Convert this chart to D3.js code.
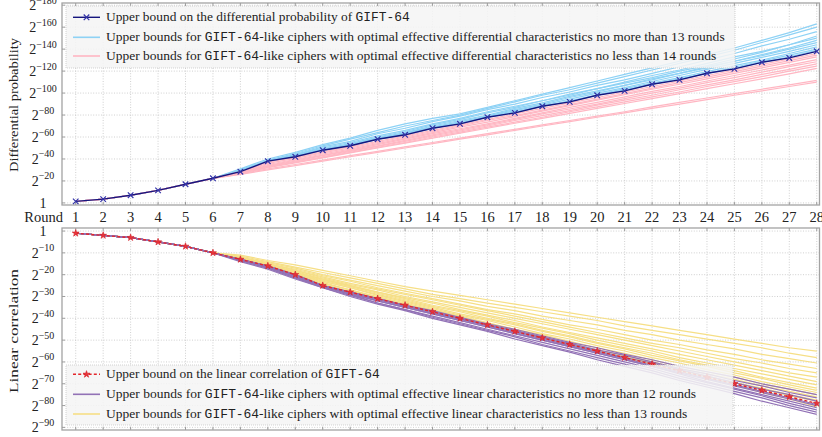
<!DOCTYPE html>
<html>
<head>
<meta charset="utf-8">
<script src="https://cdn.jsdelivr.net/npm/d3@7"></script>
<style>
  body { margin: 0; background: #fff; }
  svg { display: block; }
</style>
</head>
<body>
<script>
// ---- data ----
var rounds = [1, 2, 3, 4, 5, 6, 7, 8, 9, 10, 11, 12, 13, 14, 15, 16, 17, 18, 19, 20, 21, 22, 23, 24, 25, 26, 27, 28];
var diffTicks = [0, 20, 40, 60, 80, 100, 120, 140, 160, 180];
var linTicks = [0, 10, 20, 30, 40, 50, 60, 70, 80, 90];

// -log2 of the bounds
var diffGift = [1.415, 3.415, 7, 11.415, 17, 22.415, 28.415, 38, 42, 48, 52, 58, 62, 68, 72, 78, 82, 88, 92, 98, 102, 108, 112, 118, 122, 128, 132, 138];
var linGift = [1, 2, 3, 5, 7, 10, 13, 16, 20, 25, 28, 31, 34, 37, 40, 43, 46, 49, 52, 55, 58, 61, 64, 67, 70, 73, 76, 79];

// rounds 1-6 are shared by all the "-like" ciphers, rows below hold rounds 7..28
var diffHead = [1.415, 3.415, 7, 11.415, 17, 22.415];
var linHead = [1, 2, 3, 5, 7, 10];

var diffBlue = [
  [31, 40, 46, 53, 59, 66, 72, 77, 81, 87, 93, 99, 105, 111, 117, 123, 129, 135, 141, 148, 155, 163],
  [30, 39, 45, 52, 58, 64, 70, 75, 80, 86, 92, 98, 103, 109, 115, 121, 127, 133, 139, 146, 153, 160],
  [30, 38, 44, 51, 56, 63, 68, 74, 79, 85, 90, 96, 101, 107, 112, 118, 124, 130, 136, 143, 149, 156],
  [29.5, 38, 44, 50, 55, 61, 66, 72, 77, 83, 88, 93, 98, 104, 109, 114, 120, 125, 131, 137, 144, 152],
  [29, 38, 43, 49, 54, 60, 65, 71, 76, 82, 87, 93, 99, 104, 110, 116, 121, 127, 133, 138, 144, 150],
  [29, 38, 43, 49, 53, 59, 64, 70, 75, 80, 86, 91, 97, 102, 107, 113, 118, 124, 129, 135, 141, 148],
  [28.4, 38, 43, 48.5, 53, 59, 63.5, 69, 74, 79, 85, 90, 96, 101, 107, 112, 118, 123, 129, 134, 140, 146],
  [28.4, 38, 42.5, 48.5, 53, 58.5, 63, 68.5, 73, 78.5, 84, 89, 94.5, 100, 105, 110.5, 116, 121.5, 127, 132.5, 138, 144],
  [28.4, 38, 42.5, 48.5, 52.5, 58.5, 62.5, 68.5, 72.5, 78, 83, 88, 93, 98.5, 104, 109, 114, 119.5, 125, 130, 136, 142],
  [28.4, 38, 42, 48, 52, 58, 62, 68, 72.5, 78, 82.5, 88, 92.5, 98, 103, 108, 113, 118, 123.5, 129, 134.5, 140],
  [28.4, 38, 42, 48, 52, 58, 62, 68, 72, 78, 82, 88, 92.5, 98, 102.5, 108, 112.5, 118, 122.5, 128, 133, 139]
];

var diffPink = [
  [26, 30, 34, 38, 42, 46, 50, 54, 58, 62, 66, 70, 74, 78, 82, 86, 90, 94, 98, 102, 106, 110],
  [26.5, 31, 35, 39, 43, 47, 51, 55, 59, 63, 67, 71, 75, 79, 83, 87.5, 91.5, 95.5, 99.5, 103.5, 107.5, 111.5],
  [27, 32, 36.5, 41, 45.5, 50, 54.5, 59, 63.5, 68, 72.5, 77, 81.5, 86, 90.5, 95, 99.5, 104, 108.5, 113, 117.5, 122.5],
  [27, 32.5, 37, 41.5, 46, 50.5, 55, 60, 64.5, 69, 73.5, 78, 83, 87.5, 92, 96.5, 101, 106, 110.5, 115, 120, 124.6],
  [27.5, 33, 37.5, 42, 47, 51.5, 56, 61, 65.5, 70, 75, 79.5, 84, 89, 93.5, 98, 103, 107.5, 112, 117, 121.5, 126.5],
  [27.5, 33.5, 38, 43, 47.5, 52, 57, 62, 66.5, 71, 76, 81, 85.5, 90, 95, 100, 104.5, 109.5, 114, 119, 124, 128.5],
  [28, 34, 39, 43.5, 48, 53, 58, 63, 67.5, 72, 77, 82, 87, 91.5, 96.5, 101.5, 106, 111, 116, 121, 125.5, 130.5],
  [28, 35, 39.5, 44.5, 49, 54, 59, 64, 69, 73.5, 78.5, 83.5, 88.5, 93.5, 98.5, 103.5, 108, 113, 118, 123, 128, 133],
  [28.4, 36, 40.5, 45.5, 50, 55, 60, 65, 70, 75, 79.5, 84.5, 89.5, 94.5, 99.5, 104.5, 109.5, 114.5, 119.5, 124.5, 129.5, 134.6],
  [28.4, 37, 41.5, 46.5, 51, 56, 61, 66, 71, 76, 81, 86, 91, 96, 101, 106, 111, 116, 121, 126, 131, 136]
];

var linPurple = [
  [14, 17.5, 22, 26, 30, 33.5, 36.5, 40, 43, 46, 49.5, 52.5, 55.5, 59, 62, 65, 68.5, 71.5, 74.5, 78, 81, 84],
  [13.5, 17, 21.5, 26, 29.5, 33, 36, 39.5, 42.5, 45.5, 48.5, 52, 55, 58, 61, 64, 67.5, 70.5, 73.5, 76.5, 80, 83],
  [13.5, 17, 21.5, 25.5, 29, 33, 36, 39, 42, 45, 48, 51, 54, 57, 60, 63, 66.5, 69.5, 72.5, 75.5, 79, 82],
  [13.5, 16.5, 21, 25.5, 29, 32, 35, 38, 41, 44, 47, 50, 53, 56, 59, 62, 65.5, 69, 72, 75, 78, 81],
  [13, 16.5, 21, 25.5, 28.5, 32, 35, 38, 41, 44, 47, 50, 53, 56, 59, 62, 65, 68, 71, 74, 77, 80],
  [13, 16, 20.5, 25, 28.5, 31.5, 34.5, 37.5, 40.5, 43.5, 46.5, 49.5, 52.5, 55.5, 58.5, 61.5, 64.5, 67.5, 70.5, 73.5, 76.5, 79.5],
  [13, 16, 20.5, 25, 28, 31, 34, 37, 40, 43, 46, 49, 52, 55, 58, 60.5, 63.5, 66.5, 69.5, 72.5, 75, 78],
  [13, 16, 20, 25, 28, 31, 34, 37, 40, 43, 45.5, 48.5, 51.5, 54.5, 57, 60, 63, 65.5, 68.5, 71, 74, 76.5],
  [13, 16, 20, 25, 28, 31, 34, 36.5, 39.5, 42.5, 45, 48, 51, 53.5, 56.5, 59, 62, 64.5, 67, 70, 72.5, 75]
];

var linYellow = [
  [11, 13.5, 15.5, 18, 20.5, 23, 25.5, 27.5, 29.5, 31.5, 33.5, 35.5, 37.5, 39.5, 41.5, 43.5, 45.5, 47.5, 49.5, 51.5, 53.5, 55],
  [11.5, 14, 16.5, 19, 21.5, 24, 26.5, 29, 31, 33, 35, 37, 39, 41, 43.5, 45.5, 47.5, 49.5, 51.5, 53.5, 56, 58],
  [12, 14.5, 17, 20, 22.5, 25, 27.5, 30, 32, 34.5, 36.5, 39, 41, 43, 45.5, 47.5, 50, 52, 54, 56.5, 58.5, 60.5],
  [12, 15, 17.5, 20.5, 23, 26, 28.5, 31, 33.5, 36, 38, 40.5, 43, 45, 47.5, 50, 52, 54.5, 56.5, 59, 61, 63],
  [12, 15, 18, 21, 24, 26.5, 29, 31.5, 34, 36.5, 39, 41.5, 44, 46.5, 49, 51.5, 53.5, 56, 58.5, 60.5, 63, 65],
  [12.5, 15, 18, 21.5, 24.5, 27, 30, 32.5, 35, 37.5, 40, 42.5, 45, 47.5, 50, 52.5, 55, 57.5, 60, 62.5, 65, 67],
  [12.5, 15.5, 18.5, 22, 25, 28, 30.5, 33, 36, 38.5, 41, 44, 46.5, 49, 51.5, 54, 56.5, 59, 61.5, 64, 66.5, 69],
  [12.5, 15.5, 19, 22, 25, 28, 31, 34, 36.5, 39, 42, 44.5, 47, 50, 52.5, 55, 58, 60.5, 63, 65.5, 68, 70.5],
  [12.5, 15.5, 19, 22.5, 25.5, 28.5, 31.5, 34.5, 37, 40, 42.5, 45.5, 48, 51, 53.5, 56, 59, 61.5, 64, 67, 69.5, 72],
  [13, 16, 19, 23, 26, 29, 32, 35, 38, 40.5, 43, 46, 48.5, 51.5, 54, 57, 59.5, 62, 65, 67.5, 70.5, 73],
  [13, 16, 19.5, 23, 26, 29.5, 32.5, 35.5, 38.5, 41, 44, 47, 49.5, 52.5, 55, 58, 60.5, 63.5, 66, 69, 71.5, 74],
  [13, 16, 19.5, 23.5, 27, 30, 33, 36, 39, 42, 45, 47.5, 50.5, 53.5, 56, 59, 62, 64.5, 67, 70, 72.5, 75],
  [13, 16, 20, 24, 27, 30.5, 33.5, 36.5, 39.5, 42.5, 45.5, 48.5, 51.5, 54.5, 57, 60, 63, 65.5, 68, 71, 73.5, 76],
  [13, 16, 20, 24.5, 27.5, 30.5, 33.5, 37, 40, 43, 46, 49, 52, 55, 58, 61, 64, 66.5, 69.5, 72, 75, 77.5],
  [13, 16, 20, 24.5, 28, 31, 34, 37, 40, 43, 46, 49, 52, 55, 57.5, 60.5, 63.5, 66.5, 69.5, 72.5, 75.5, 78],
  [13, 16, 20, 25, 28, 31, 34, 37, 40, 43, 46, 49, 52, 55, 58, 61, 64, 67, 70.5, 74, 77, 80.5]
];

var legendTopLabels = [
  ["Upper bound on the differential probability of ", "GIFT-64", ""],
  ["Upper bounds for ", "GIFT-64", "-like ciphers with optimal effective differential characteristics no more than 13 rounds"],
  ["Upper bounds for ", "GIFT-64", "-like ciphers with optimal effective differential characteristics no less than 14 rounds"]
];
var legendBotLabels = [
  ["Upper bound on the linear correlation of ", "GIFT-64", ""],
  ["Upper bounds for ", "GIFT-64", "-like ciphers with optimal effective linear characteristics no more than 12 rounds"],
  ["Upper bounds for ", "GIFT-64", "-like ciphers with optimal effective linear characteristics no less than 13 rounds"]
];

// ---- setup ----
var W = 822, H = 437;
var serif = "Liberation Serif, DejaVu Serif, serif";
var mono = "Liberation Mono, DejaVu Sans Mono, monospace";
var cBlue = "#8ed2f5", cPink = "#ffb7c3", cPurple = "#9272b6", cYellow = "#f6df86";
var cNavy = "#16167e", cRed = "#e3262b";

var svg = d3.select("body").append("svg")
    .attr("width", W)
    .attr("height", H)
    .style("background", "#fff");

var x = d3.scaleLinear().domain([0.5, 28.1]).range([62, 819.5]);
var yTop = d3.scaleLinear().domain([-1.9, 182]).range([205, 3]);
var yBot = d3.scaleLinear().domain([-1.4, 91.2]).range([228, 430]);

var defs = svg.append("defs");
function addClip(id, y) {
    defs.append("clipPath").attr("id", id)
        .append("rect")
        .attr("x", x.range()[0]).attr("y", Math.min(y.range()[0], y.range()[1]))
        .attr("width", x.range()[1] - x.range()[0])
        .attr("height", Math.abs(y.range()[1] - y.range()[0]));
}
addClip("clipTop", yTop);
addClip("clipBot", yBot);

// grid, frame and y tick labels for one panel
function drawFrame(y, ticks) {
    var y0 = Math.min(y.range()[0], y.range()[1]), y1 = Math.max(y.range()[0], y.range()[1]);
    var x0 = x.range()[0], x1 = x.range()[1];
    var g = svg.append("g");

    g.selectAll("line.vg").data(rounds).enter().append("line")
        .attr("x1", function(d) { return x(d); })
        .attr("x2", function(d) { return x(d); })
        .attr("y1", y0).attr("y2", y1)
        .attr("stroke", "#c4c4c4").attr("stroke-width", 0.8)
        .attr("stroke-dasharray", "1,1.6");

    g.selectAll("line.hg").data(ticks).enter().append("line")
        .attr("x1", x0).attr("x2", x1)
        .attr("y1", function(d) { return y(d); })
        .attr("y2", function(d) { return y(d); })
        .attr("stroke", "#c4c4c4").attr("stroke-width", 0.8)
        .attr("stroke-dasharray", "1,1.6");

    // small tick marks inside the box
    g.selectAll("line.tx").data(rounds).enter().append("line")
        .attr("x1", function(d) { return x(d); })
        .attr("x2", function(d) { return x(d); })
        .attr("y1", y1).attr("y2", y1 - 3)
        .attr("stroke", "#888").attr("stroke-width", 0.8);
    g.selectAll("line.tx2").data(rounds).enter().append("line")
        .attr("x1", function(d) { return x(d); })
        .attr("x2", function(d) { return x(d); })
        .attr("y1", y0).attr("y2", y0 + 3)
        .attr("stroke", "#888").attr("stroke-width", 0.8);
    g.selectAll("line.ty").data(ticks).enter().append("line")
        .attr("x1", x0).attr("x2", x0 + 3)
        .attr("y1", function(d) { return y(d); })
        .attr("y2", function(d) { return y(d); })
        .attr("stroke", "#888").attr("stroke-width", 0.8);

    g.append("rect")
        .attr("x", x0).attr("y", y0)
        .attr("width", x1 - x0).attr("height", y1 - y0)
        .attr("fill", "none")
        .attr("stroke", "#a3a3a3").attr("stroke-width", 1.3);

    // 1, 2^-20, ...
    ticks.forEach(function(v) {
        var t = svg.append("text")
            .attr("x", 43)
            .attr("y", y(v) + 5)
            .attr("text-anchor", "middle")
            .attr("font-family", serif)
            .attr("font-size", 14)
            .attr("fill", "#222");
        if (v === 0) {
            t.text("1");
        } else {
            t.append("tspan").text("2");
            t.append("tspan").attr("dy", -6.5).attr("font-size", 10).text("\u2212" + v);
        }
    });
}

drawFrame(yTop, diffTicks);
drawFrame(yBot, linTicks);

// ---- series ----
function seriesLine(y) {
    return d3.line()
        .x(function(d, i) { return x(rounds[i]); })
        .y(function(d) { return y(d); });
}

function drawBundle(clip, y, head, rows, color, width) {
    svg.append("g").attr("clip-path", "url(#" + clip + ")")
        .selectAll("path")
        .data(rows)
        .enter()
        .append("path")
        .attr("d", function(r) { return seriesLine(y)(head.concat(r)); })
        .attr("fill", "none")
        .attr("stroke", color)
        .attr("stroke-width", width);
}

drawBundle("clipTop", yTop, diffHead, diffBlue, cBlue, 1.2);
drawBundle("clipTop", yTop, diffHead, diffPink, cPink, 1.2);
drawBundle("clipBot", yBot, linHead, linYellow, cYellow, 1.2);
drawBundle("clipBot", yBot, linHead, linPurple, cPurple, 1.2);

// GIFT-64 differential
var gTop = svg.append("g").attr("clip-path", "url(#clipTop)");
gTop.append("path")
    .attr("d", seriesLine(yTop)(diffGift))
    .attr("fill", "none")
    .attr("stroke", cNavy)
    .attr("stroke-width", 1.4);

var asterisk = d3.symbol().type(d3.symbolTimes).size(22);
gTop.selectAll("path.mk")
    .data(diffGift)
    .enter()
    .append("path")
    .attr("class", "mk")
    .attr("transform", function(d, i) { return "translate(" + x(rounds[i]) + "," + yTop(d) + ")"; })
    .attr("d", asterisk)
    .attr("fill", "none")
    .attr("stroke", "#3434a8")
    .attr("stroke-width", 1.2);

// GIFT-64 linear
var gBot = svg.append("g").attr("clip-path", "url(#clipBot)");
gBot.append("path")
    .attr("d", seriesLine(yBot)(linGift))
    .attr("fill", "none")
    .attr("stroke", cRed)
    .attr("stroke-width", 1.4)
    .attr("stroke-dasharray", "3,2.2");

var star = d3.symbol().type(d3.symbolStar).size(15);
gBot.selectAll("path.mk")
    .data(linGift)
    .enter()
    .append("path")
    .attr("class", "mk")
    .attr("transform", function(d, i) { return "translate(" + x(rounds[i]) + "," + yBot(d) + ")"; })
    .attr("d", star)
    .attr("fill", "#e8343a")
    .attr("stroke", "#d42028")
    .attr("stroke-width", 0.6);

// ---- x labels between panels ----
svg.selectAll("text.xl")
    .data(rounds)
    .enter()
    .append("text")
    .attr("x", function(d) { return x(d); })
    .attr("y", 221.5)
    .attr("text-anchor", "middle")
    .attr("font-family", serif)
    .attr("font-size", 14.5)
    .attr("fill", "#222")
    .text(function(d) { return d; });

svg.append("text")
    .attr("x", 63).attr("y", 221.5)
    .attr("text-anchor", "end")
    .attr("font-family", serif)
    .attr("font-size", 14.5)
    .attr("fill", "#222")
    .text("Round");

// ---- y titles ----
function yTitle(label, cy, len) {
    svg.append("text")
        .attr("transform", "translate(18," + cy + ") rotate(-90)")
        .attr("text-anchor", "middle")
        .attr("font-family", serif)
        .attr("font-size", 13)
        .attr("fill", "#222")
        .attr("textLength", len)
        .attr("lengthAdjust", "spacingAndGlyphs")
        .text(label);
}
yTitle("Differential probability", 105, 134);
yTitle("Linear correlation", 331, 124);

// ---- legends ----
function fitText(sel, target) {
    var w = sel.node().getComputedTextLength();
    var x0 = +sel.attr("x"), y0 = +sel.attr("y");
    sel.attr("transform", "translate(" + x0 + "," + y0 + ") scale(" + (target / w) + ",1) translate(" + (-x0) + "," + (-y0) + ")");
}

function drawLegend(box, rowsY, labels, widths, drawSample) {
    var g = svg.append("g");
    g.append("rect")
        .attr("x", box[0]).attr("y", box[1])
        .attr("width", box[2]).attr("height", box[3])
        .attr("fill", "#f4f4f4").attr("fill-opacity", 0.86)
        .attr("stroke", "#c8c8c8").attr("stroke-width", 0.8)
        .attr("stroke-dasharray", "1,1");
    labels.forEach(function(lab, i) {
        var cy = rowsY[i];
        drawSample(g, i, cy);
        var t = g.append("text")
            .attr("x", 106).attr("y", cy + 4.2)
            .attr("font-family", serif)
            .attr("font-size", 12.5)
            .attr("fill", "#222");
        t.append("tspan").text(lab[0]);
        t.append("tspan").attr("font-family", mono).attr("font-size", 12).text(lab[1]);
        t.append("tspan").text(lab[2]);
        fitText(t, widths[i]);
    });
}

drawLegend([66, 6, 669, 62], [17.3, 37.3, 56], legendTopLabels, [304, 619, 611], function(g, i, cy) {
    var col = [cNavy, cBlue, cPink][i];
    g.append("line")
        .attr("x1", 73).attr("x2", 100).attr("y1", cy).attr("y2", cy)
        .attr("stroke", col).attr("stroke-width", i === 0 ? 1.4 : 1.6);
    if (i === 0) {
        g.append("path")
            .attr("transform", "translate(86.5," + cy + ")")
            .attr("d", asterisk)
            .attr("fill", "none").attr("stroke", "#3434a8").attr("stroke-width", 1.2);
    }
});

drawLegend([66, 365, 667, 60], [374.3, 394.3, 414], legendBotLabels, [274, 591, 582], function(g, i, cy) {
    var col = [cRed, cPurple, cYellow][i];
    g.append("line")
        .attr("x1", 73).attr("x2", 100).attr("y1", cy).attr("y2", cy)
        .attr("stroke", col).attr("stroke-width", i === 0 ? 1.4 : 1.6)
        .attr("stroke-dasharray", i === 0 ? "3,2.2" : null);
    if (i === 0) {
        g.append("path")
            .attr("transform", "translate(86.5," + cy + ")")
            .attr("d", star)
            .attr("fill", "#e8343a").attr("stroke", "#d42028").attr("stroke-width", 0.6);
    }
});
</script>
</body>
</html>
